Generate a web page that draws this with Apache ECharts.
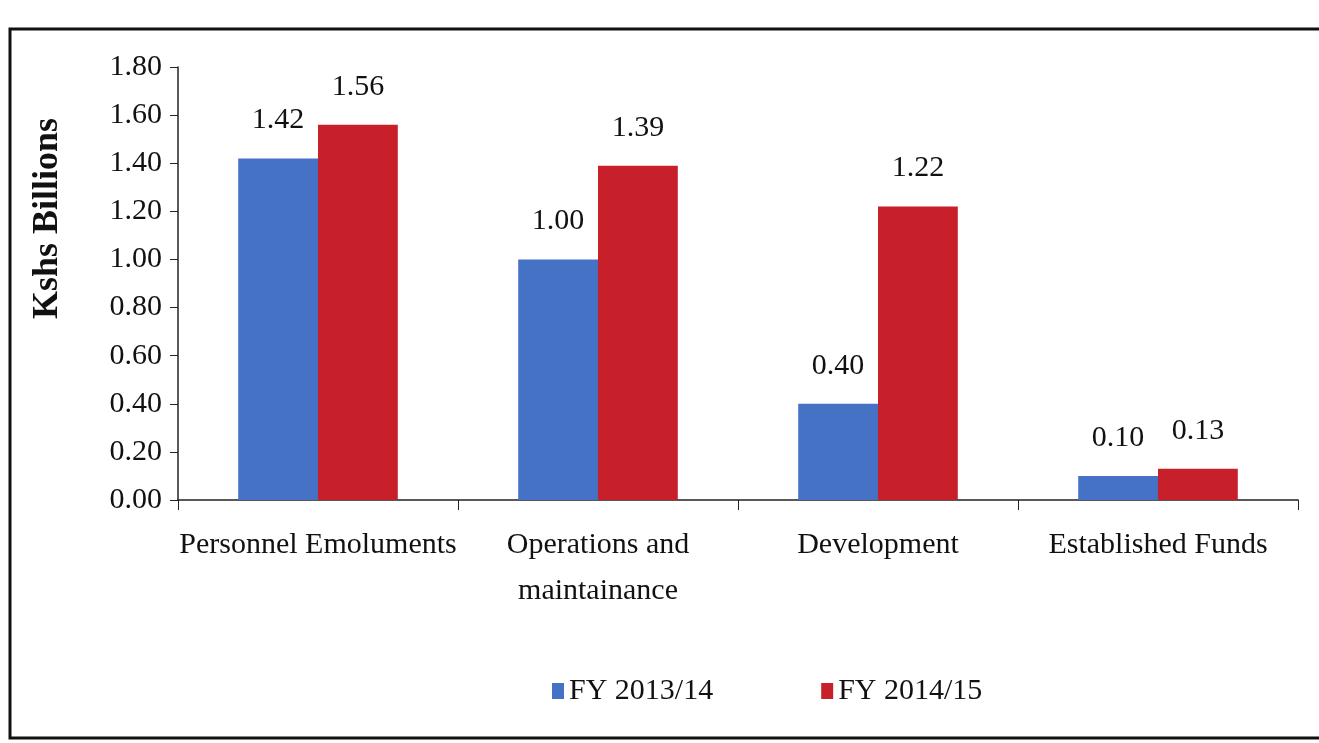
<!DOCTYPE html>
<html>
<head>
<meta charset="utf-8">
<script src="https://cdn.jsdelivr.net/npm/echarts@6/dist/echarts.min.js"></script>
<style>
  html, body { margin: 0; padding: 0; background: #fff; }
  #chart { width: 1319px; height: 743px; }
</style>
</head>
<body>
<div id="chart"></div>
<script>
  // data
  const categories = ['Personnel Emoluments', 'Operations and\nmaintainance', 'Development', 'Established Funds']
  const fy1314 = [1.42, 1.00, 0.40, 0.10]
  const fy1415 = [1.56, 1.39, 1.22, 0.13]
  const seriesNames = ['FY 2013/14', 'FY 2014/15']

  const font = 'Liberation Serif'
  const myChart = echarts.init(document.getElementById('chart'))

  const labelStyle = {
    show: true,
    position: 'top',
    distance: 23,
    fontFamily: font,
    fontSize: 30,
    color: '#111',
    formatter: p => p.value.toFixed(2)
  }

  const options = {
    backgroundColor: '#fff',
    animation: false,
    graphic: [{
      type: 'rect',
      shape: { x: 10, y: 29, width: 1340, height: 709 },
      style: { fill: 'none', stroke: '#111', lineWidth: 3 }
    }],
    legend: {
      bottom: 32,
      left: 547,
      itemGap: 108,
      itemWidth: 12,
      itemHeight: 16,
      icon: 'rect',
      textStyle: { fontFamily: font, fontSize: 30, color: '#111' },
      data: seriesNames
    },
    grid: { left: 178, right: 21, top: 67, bottom: 243 },
    xAxis: {
      type: 'category',
      data: categories,
      axisLine: { lineStyle: { color: '#222', width: 1.5 } },
      axisTick: { show: true, length: 10, lineStyle: { color: '#222' } },
      axisLabel: {
        interval: 0,
        fontFamily: font,
        fontSize: 30,
        color: '#111',
        margin: 22,
        lineHeight: 46
      }
    },
    yAxis: {
      type: 'value',
      min: 0,
      max: 1.8,
      interval: 0.2,
      name: 'Kshs Billions',
      nameLocation: 'middle',
      nameGap: 112,
      nameTextStyle: {
        fontFamily: font, fontSize: 36, fontWeight: 'bold', color: '#111',
        padding: [0, 0, 0, 130]
      },
      axisLine: { show: true, lineStyle: { color: '#222', width: 1.5 } },
      axisTick: { show: true, length: 8, lineStyle: { color: '#222' } },
      splitLine: { show: false },
      axisLabel: {
        fontFamily: font,
        fontSize: 30,
        color: '#111',
        margin: 16,
        formatter: v => v.toFixed(2)
      }
    },
    series: [
      {
        name: seriesNames[0],
        type: 'bar',
        data: fy1314,
        barGap: '0%',
        barCategoryGap: '43%',
        itemStyle: { color: '#4672C6' },
        label: labelStyle
      },
      {
        name: seriesNames[1],
        type: 'bar',
        data: fy1415,
        itemStyle: { color: '#C8202A' },
        label: labelStyle
      }
    ]
  }
  myChart.setOption(options)
</script>
</body>
</html>
